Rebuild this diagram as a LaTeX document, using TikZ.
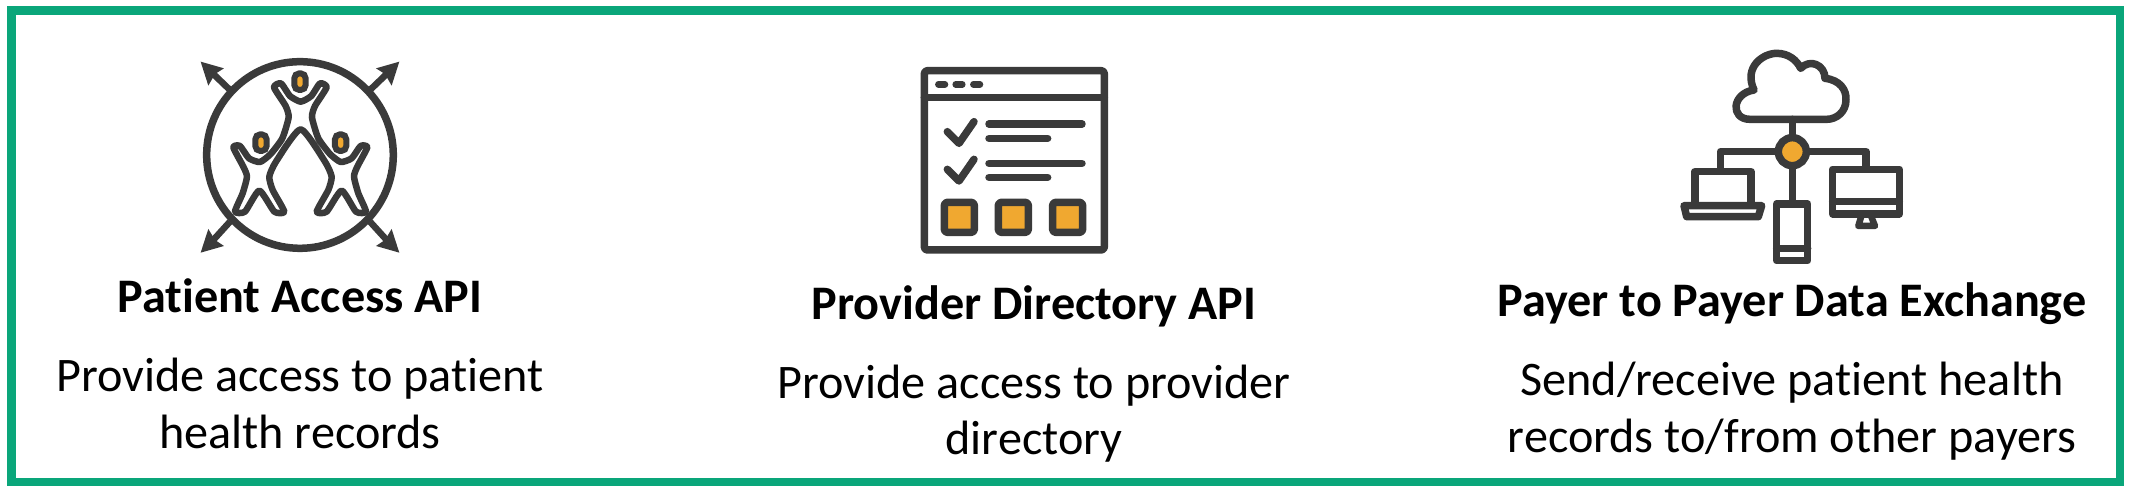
\documentclass[tikz,border=0pt]{standalone}
\usepackage{fontspec}
\setmainfont[RawFeature={-liga;-clig;-calt;-dlig}]{Carlito}
\definecolor{ink}{HTML}{3A3A3A}
\definecolor{amber}{HTML}{F0A830}
\definecolor{frame}{HTML}{0AA67A}
\tikzset{
  title/.style={font=\fontsize{48.2}{48.2}\selectfont\bfseries,text=black,anchor=base,inner sep=0pt},
  body/.style={font=\fontsize{48.2}{48.2}\selectfont,text=black,anchor=base,inner sep=0pt},
  icon/.style={draw=ink,line width=7.5pt,line join=round,line cap=round},
  thin/.style={draw=ink,line width=6.5pt,line join=round,line cap=round},
}
\begin{document}
\begin{tikzpicture}[x=1pt,y=-1pt]
\useasboundingbox (0,0) rectangle (2130,490);
\fill[white] (0,0) rectangle (2130,490);
\draw[draw=frame,line width=8.5pt] (11.5,10.5) rectangle (2120,482);
% Icon 1
\begin{scope}[shift={(150,30)},x=.3333pt,y=-.3333pt]
\coordinate (c1) at (450,375);
\draw[icon] (c1) circle[radius=280];
\foreach \ax/\ay/\bx/\by in {
 240/180/190/132,
 660/180/710/132,
 240/575/190/630,
 660/575/710/630}{
  \draw[draw=ink,line width=6.5pt] (\ax,\ay) -- (\bx,\by);
}
\fill[ink] (152,95) -- (222,115) -- (195,132) -- (175,167) -- cycle;
\fill[ink] (748,95) -- (678,115) -- (705,132) -- (725,167) -- cycle;
\fill[ink] (152,668) -- (222,648) -- (195,630) -- (175,597) -- cycle;
\fill[ink] (748,668) -- (678,648) -- (705,630) -- (725,597) -- cycle;
\draw[thin] plot[smooth cycle,tension=.35] coordinates {
 (393,160) (420,198) (452,215) (484,198) (510,160) (530,172) (495,228) (486,262) (505,325)
 (540,372) (572,396) (605,385) (632,348) (652,352) (622,410) (612,440) (625,490) (648,545)
 (618,545) (575,482) (530,545) (500,545) (535,480) (545,440) (525,395) (452,298)
 (378,395) (358,440) (368,480) (403,545) (373,545) (328,482) (285,545) (255,545) (278,490) (291,440) (280,410)
 (250,352) (270,348) (297,385) (330,396) (362,372) (397,325) (416,262) (407,228) (372,172)};
\foreach \hx/\hy in {450/155,333/338,572/338}{
 \draw[draw=ink,line width=6pt,fill=amber,rounded corners=5pt]
   (\hx-17,\hy-25) rectangle (\hx+17,\hy+25);
}
\end{scope}
% Icon 2
\begin{scope}[shift={(890,50)},x=.3333pt,y=-.3333pt]
\draw[icon,rounded corners=3pt] (103,62) rectangle (643,600);
\draw[icon] (103,143) -- (643,143);
\foreach \dx in {155,207,260}{\draw[thin] (\dx-10,103) -- (\dx+10,103);}
\draw[icon] (172,245) -- (207,280) -- (252,215);
\draw[icon] (172,358) -- (207,393) -- (252,328);
\draw[icon] (297,222) -- (576,222);
\draw[icon] (297,265) -- (473,265);
\draw[icon] (297,340) -- (576,340);
\draw[icon] (297,382) -- (473,382);
\foreach \sx in {208,370,533}{
 \draw[icon,fill=amber,rounded corners=3pt] (\sx-45,457) rectangle (\sx+45,547);
}
\end{scope}
% Icon 3
\begin{scope}[shift={(1650,30)},x=.3333pt,y=-.3333pt]
\draw[icon] (300,268) .. controls (240,268) and (245,190) .. (312,180)
 .. controls (280,110) and (340,70) .. (380,70)
 .. controls (415,70) and (440,90) .. (452,115)
 .. controls (480,85) and (525,105) .. (525,145)
 .. controls (570,150) and (590,180) .. (588,210)
 .. controls (588,245) and (560,268) .. (530,268) -- cycle;
\draw[icon] (427,268) -- (427,320);
\draw[icon] (385,365) -- (212,365) -- (212,420);
\draw[icon] (470,365) -- (648,365) -- (648,415);
\draw[icon] (427,405) -- (427,520);
\draw[icon,fill=amber] (427,365) circle[radius=42];
\draw[icon] (135,525) -- (135,425) -- (303,425) -- (303,525);
\draw[icon] (102,527) -- (335,527) -- (325,560) -- (110,560) -- cycle;
\draw[icon] (380,522) rectangle (473,692);
\draw[icon] (380,655) -- (473,655);
\draw[icon] (548,418) rectangle (748,552);
\draw[icon] (548,515) -- (748,515);
\draw[thin] (635,555) -- (625,588) -- (675,588) -- (662,555);
\end{scope}
% Text
\node[title] (t1) at (300,312) {Patient Access API};
\node[body] (b1a) at (300,391) {Provide access to patient};
\node[body] (b1b) at (300,448) {health records};
\node[title] (t2) at (1034,319) {Provider Directory API};
\node[body] (b2a) at (1034,398) {Provide access to provider};
\node[body] (b2b) at (1034,454) {directory};
\node[title] (t3) at (1792,316) {Payer to Payer Data Exchange};
\node[body] (b3a) at (1792,395) {Send/receive patient health};
\node[body] (b3b) at (1792,452) {records to/from other payers};
\end{tikzpicture}
\end{document}
